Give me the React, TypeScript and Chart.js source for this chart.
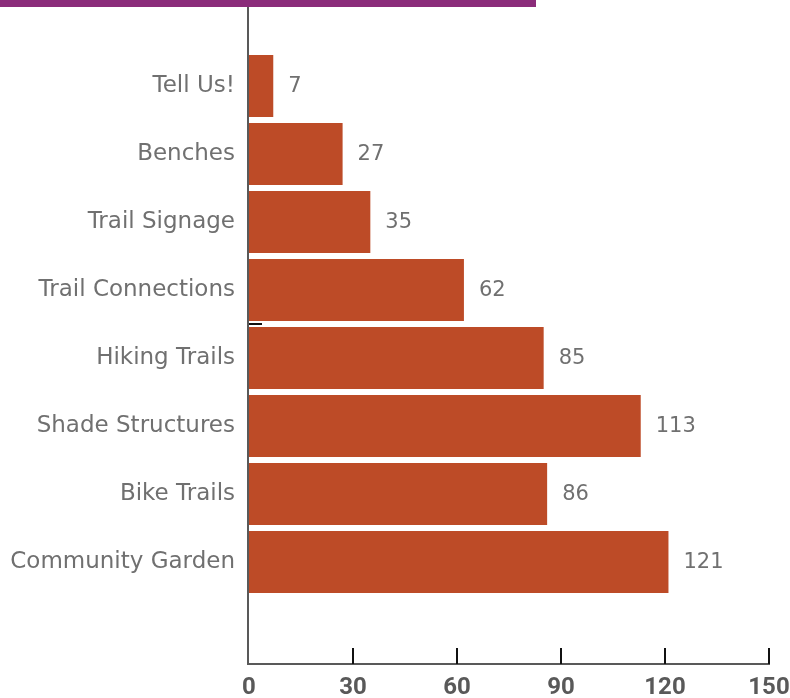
import React, { useEffect, useRef } from "react";
import { Chart, registerables } from "chart.js";

Chart.register(...registerables);

const categories: string[] = [
  "Tell Us!",
  "Benches",
  "Trail Signage",
  "Trail Connections",
  "Hiking Trails",
  "Shade Structures",
  "Bike Trails",
  "Community Garden",
  "",
];
const votes: (number | null)[] = [7, 27, 35, 62, 85, 113, 86, 121, null];
const xTicks: number[] = [0, 30, 60, 90, 120, 150];

const BAR_COLOR = "#BD4B27";
const AXIS_COLOR = "#595959";
const LABEL_COLOR = "#707070";
const FONT = "'DejaVu Sans', sans-serif";

const decorPlugin = {
  id: "decor",
  beforeDraw(chart: any) {
    const ctx = chart.ctx;
    ctx.save();
    ctx.fillStyle = "#FFFFFF";
    ctx.fillRect(0, 0, chart.width, chart.height);
    ctx.restore();
  },
  afterDatasetsDraw(chart: any) {
    const ctx = chart.ctx;
    const area = chart.chartArea;
    const xs = chart.scales.x;
    const ys = chart.scales.y;
    ctx.save();
    // purple header bar
    ctx.fillStyle = "#8B2C7A";
    ctx.fillRect(0, 0, 536, 7);
    // y axis line
    ctx.strokeStyle = AXIS_COLOR;
    ctx.lineWidth = 2;
    ctx.beginPath();
    ctx.moveTo(area.left - 1, 7);
    ctx.lineTo(area.left - 1, area.bottom + 1);
    ctx.stroke();
    // x axis line
    ctx.beginPath();
    ctx.moveTo(area.left - 2, area.bottom);
    ctx.lineTo(xs.getPixelForValue(150) + 1, area.bottom);
    ctx.stroke();
    // x ticks (inside, upward)
    ctx.strokeStyle = "#111111";
    ctx.lineWidth = 2;
    xTicks.forEach((v) => {
      if (v === 0) return;
      const px = xs.getPixelForValue(v);
      ctx.beginPath();
      ctx.moveTo(px, area.bottom - 16);
      ctx.lineTo(px, area.bottom);
      ctx.stroke();
    });
    // small mark between categories
    const yb = (ys.getPixelForValue(3) + ys.getPixelForValue(4)) / 2;
    ctx.lineWidth = 2;
    ctx.beginPath();
    ctx.moveTo(area.left, yb);
    ctx.lineTo(area.left + 13, yb);
    ctx.stroke();
    // value labels
    ctx.fillStyle = LABEL_COLOR;
    ctx.font = `21px ${FONT}`;
    ctx.textAlign = "left";
    ctx.textBaseline = "middle";
    const meta = chart.getDatasetMeta(0);
    meta.data.forEach((bar: any, i: number) => {
      const v = votes[i];
      if (v === null || v === undefined) return;
      ctx.fillText(String(v), bar.x + 15, bar.y + 1);
    });
    ctx.restore();
  },
};

export default function App() {
  const canvasRef = useRef<HTMLCanvasElement | null>(null);

  useEffect(() => {
    if (!canvasRef.current) return;
    const chart = new Chart(canvasRef.current, {
      type: "bar",
      data: {
        labels: categories,
        datasets: [
          {
            data: votes as any,
            backgroundColor: BAR_COLOR,
            borderWidth: 0,
            barPercentage: 0.91,
            categoryPercentage: 1,
          },
        ],
      },
      options: {
        indexAxis: "y",
        animation: false,
        responsive: false,
        maintainAspectRatio: false,
        layout: { autoPadding: false, padding: { top: 52, right: 21, left: 0, bottom: 0 } },
        plugins: {
          legend: { display: false },
          tooltip: { enabled: false },
          title: { display: false },
        },
        scales: {
          x: {
            type: "linear",
            min: 0,
            max: 150,
            afterBuildTicks: (scale: any) => {
              scale.ticks = xTicks.map((v) => ({ value: v }));
            },
            afterFit: (scale: any) => {
              scale.height = 34;
              scale.paddingLeft = 0;
              scale.paddingRight = 0;
            },
            grid: { display: false, drawTicks: false },
            border: { display: false },
            ticks: {
              color: AXIS_COLOR,
              padding: 10,
              font: { family: "Roboto, 'DejaVu Sans', sans-serif", size: 24, weight: "bold" },
            },
          },
          y: {
            type: "category",
            afterFit: (scale: any) => {
              scale.width = 249;
              scale.paddingTop = 0;
              scale.paddingBottom = 0;
            },
            grid: { display: false, drawTicks: false },
            border: { display: false },
            ticks: {
              color: LABEL_COLOR,
              padding: 14,
              font: { family: FONT, size: 23 },
            },
          },
        },
      },
      plugins: [decorPlugin],
    });
    return () => chart.destroy();
  }, []);

  return (
    <div style={{ position: "absolute", left: 0, top: 0, width: 790, height: 698 }}>
      <canvas ref={canvasRef} width={790} height={698} style={{ display: "block" }} />
    </div>
  );
}
